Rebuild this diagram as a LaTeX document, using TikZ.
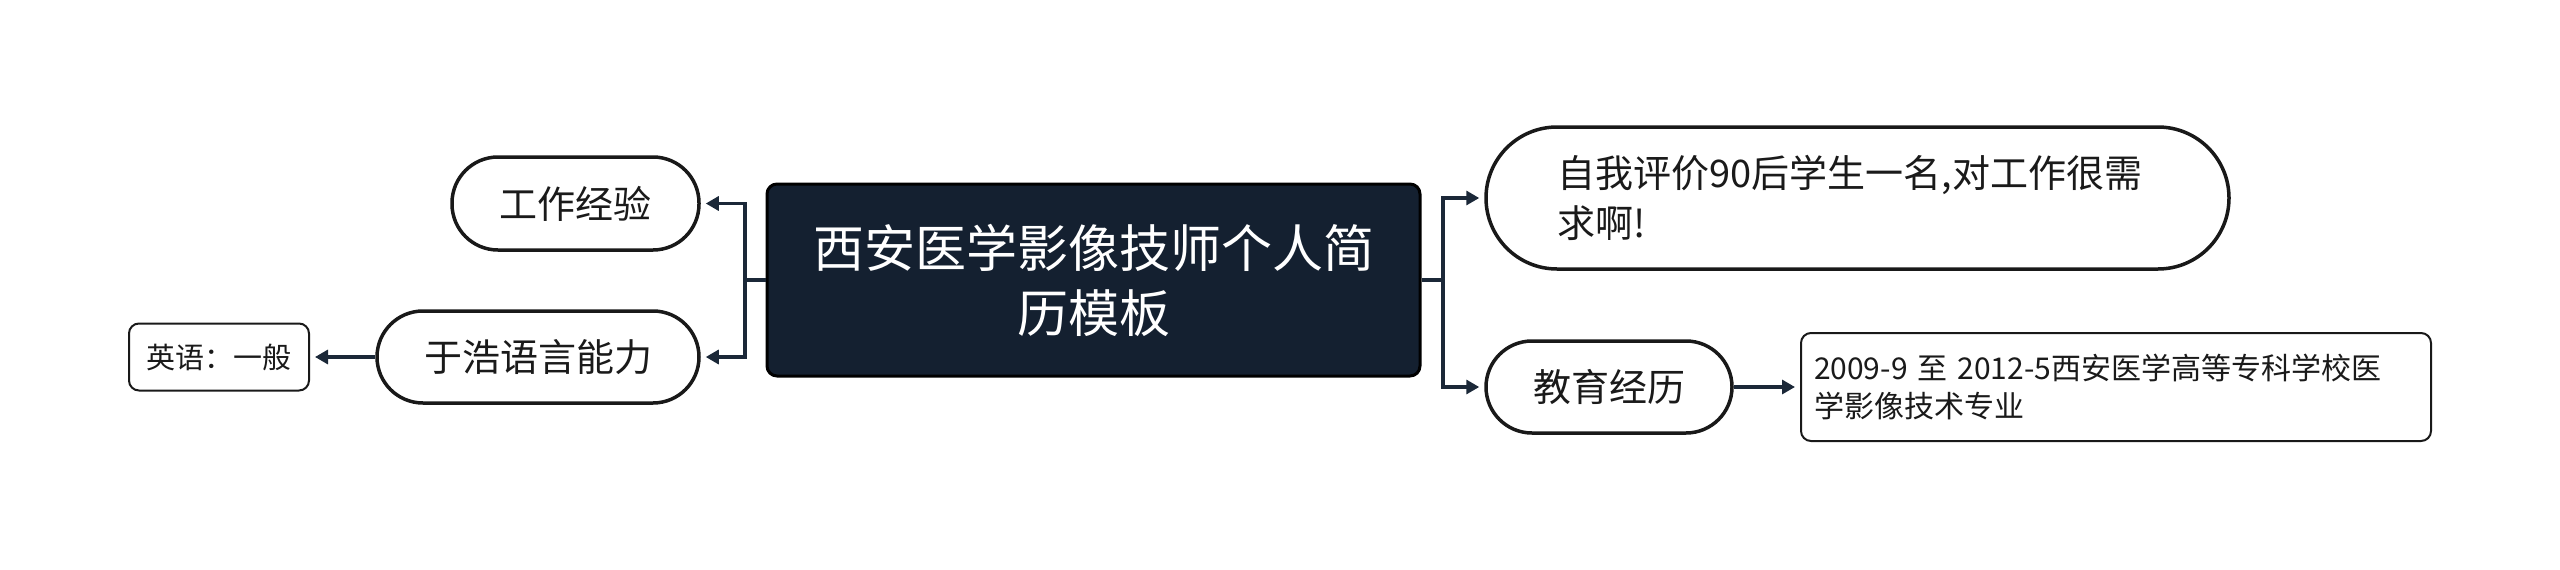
\documentclass[tikz,border=0pt]{standalone}
\usepackage{fontspec}
\setmainfont{Noto Sans CJK SC}
\usetikzlibrary{arrows.meta}
\definecolor{navy}{HTML}{142030}
\definecolor{lineC}{HTML}{1B2838}
\definecolor{txt}{HTML}{1A1A1A}
\begin{document}
\begin{tikzpicture}[x=1pt,y=-1pt,
  pill/.style={draw=black!90,line width=3.5pt,fill=white,rounded corners=#1,inner sep=0pt,text=txt,font=\fontsize{38}{50}\selectfont},
  leafbox/.style={draw=black!90,line width=2pt,fill=white,rounded corners=10pt,inner sep=0pt,text=txt},
  conn/.style={draw=lineC,line width=3.2pt},
  arr/.style={conn,shorten >=5pt,-{Triangle[length=13pt,width=14pt]}}]
\useasboundingbox (0,0) rectangle (2560,570);
% central node
\node[draw=black,line width=3pt,fill=navy,rounded corners=10pt,minimum width=653pt,minimum height=192pt,
  text=white,align=center,text width=600pt,font=\fontsize{51}{65}\selectfont] (c) at (1093.5,280)
  {西安医学影像技师个人简\\历模板};
% left
\node[pill=46pt,minimum width=247pt,minimum height=93pt] (w) at (575.5,203.5) {工作经验};
\node[pill=46pt,minimum width=322pt,minimum height=92pt] (l) at (538,357) {于浩语言能力};
\node[leafbox,minimum width=180pt,minimum height=67pt,font=\fontsize{29}{36}\selectfont] (e) at (219,357) {英语：一般};
% right
\node[pill=71pt,minimum width=743pt,minimum height=142pt,align=left,text width=600pt] (s) at (1857.5,198)
  {自我评价90后学生一名,对工作很需\\求啊!};
\node[pill=46pt,minimum width=246pt,minimum height=92pt] (ed) at (1609,387) {教育经历};
\node[leafbox,minimum width=630pt,minimum height=108pt,align=left,text width=604pt,font=\fontsize{30}{38}\selectfont] (d) at (2116,387)
  {2009-9 至 2012-5西安医学高等专科学校医\\学影像技术专业};
% connectors
\coordinate (jl) at (745,280);
\coordinate (jr) at (1443,280);
\draw[conn] (c.west) -- (jl);
\draw[arr] (jl) |- (w.east);
\draw[arr] (jl) |- (l.east);
\draw[arr] (l.west) -- (e.east);
\draw[conn] (c.east) -- (jr);
\draw[arr] (jr) |- (s.west);
\draw[arr] (jr) |- (ed.west);
\draw[arr] (ed.east) -- (d.west);
\end{tikzpicture}
\end{document}
